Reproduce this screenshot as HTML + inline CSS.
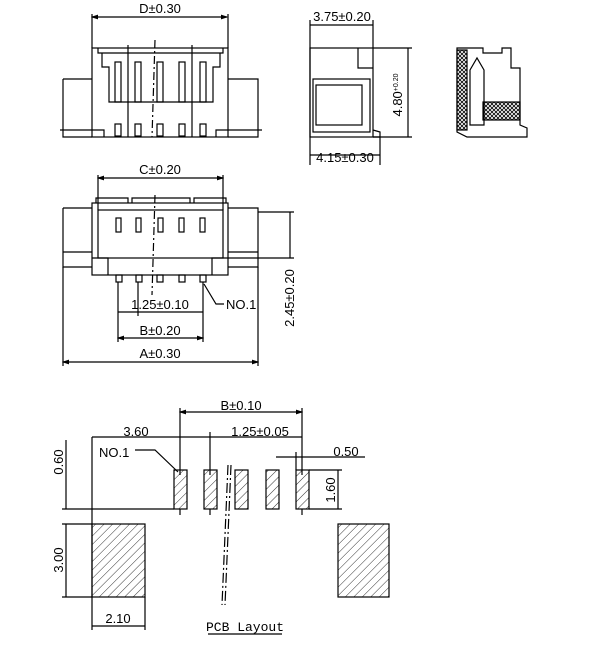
<!DOCTYPE html>
<html><head><style>
html,body{margin:0;padding:0;background:#fff;}
svg{display:block;font-family:"Liberation Sans",sans-serif;}
text{font-size:13px;fill:#000;}
</style></head><body>
<svg width="600" height="652" viewBox="0 0 600 652" xmlns="http://www.w3.org/2000/svg">
<defs>
<pattern id="h" patternUnits="userSpaceOnUse" width="6" height="6" patternTransform="rotate(45)"><line x1="0" y1="0" x2="0" y2="6" stroke="#000" stroke-width="0.8"/></pattern>
<pattern id="x" patternUnits="userSpaceOnUse" width="4" height="4"><path d="M0 0L4 4M4 0L0 4" stroke="#000" stroke-width="0.8"/></pattern>
<marker id="a" markerWidth="6" markerHeight="4" refX="5" refY="2" orient="auto-start-reverse"><path d="M0 0L6 2L0 4z" fill="#000"/></marker>
</defs>
<g fill="none" stroke="#000" stroke-width="1.2">
<!-- Top view -->
<line x1="92" y1="17" x2="227" y2="17" marker-start="url(#a)" marker-end="url(#a)"/>
<line x1="92" y1="14" x2="92" y2="48"/><line x1="228" y1="14" x2="228" y2="48"/>
<rect x="92" y="48" width="136" height="89"/>
<path d="M98 48 L98 53 L223 53 L223 48"/>
<path d="M102 53 L102 67 L109 67 L109 102 L213 102 L213 67 L220 67 L220 53"/>
<path d="M63 79 L92 79 M63 79 L63 137 L92 137 M60 130 L92 130"/>
<path d="M228 79 L258 79 L258 137 L228 137 M228 130 L262 130"/>
<path d="M92 130 L104 130 L104 137 M228 130 L216 130 L216 137"/>
<g>
<rect x="115" y="62" width="6" height="40"/><rect x="135" y="62" width="6" height="40"/><rect x="157" y="62" width="6" height="40"/><rect x="179" y="62" width="6" height="40"/><rect x="200" y="62" width="6" height="40"/>
<rect x="115" y="124" width="6" height="12"/><rect x="135" y="124" width="6" height="12"/><rect x="157" y="124" width="6" height="12"/><rect x="179" y="124" width="6" height="12"/><rect x="200" y="124" width="6" height="12"/>
<line x1="128" y1="45" x2="128" y2="137"/><line x1="192" y1="45" x2="192" y2="137"/>
<line x1="155" y1="40" x2="152" y2="137" stroke-dasharray="8,3,2,3"/>
</g>
<!-- Front right view -->
<line x1="310" y1="25" x2="373" y2="25"/>
<line x1="310" y1="20" x2="310" y2="165"/><line x1="373" y1="20" x2="373" y2="48"/>
<rect x="310" y="48" width="63" height="89"/>
<path d="M358 48 L358 68 L373 68"/>
<rect x="313" y="79" width="57" height="53"/><rect x="316" y="85" width="46" height="40"/>
<path d="M373 130 L380 132 L380 137 L373 137"/>
<line x1="373" y1="48" x2="412" y2="48"/><line x1="373" y1="137" x2="412" y2="137"/>
<line x1="408" y1="48" x2="408" y2="137"/>
<line x1="310" y1="155" x2="380" y2="155"/><line x1="380" y1="137" x2="380" y2="165"/>
<!-- Side section -->
<path d="M457 48 L483 48 L483 53 L502 53 L502 48 L511 48 L511 68 L520 68 L520 125 L527 128 L527 137 L467 137 L457 132 Z"/>
<rect x="457" y="50" width="10" height="80" fill="url(#x)"/>
<rect x="483" y="102" width="37" height="18" fill="url(#x)"/>
<path d="M470 125 L470 70 L477 58 L484 70 L484 125 Z"/>
<!-- Front bottom view -->
<line x1="98" y1="178" x2="223" y2="178" marker-start="url(#a)" marker-end="url(#a)"/>
<line x1="98" y1="175" x2="98" y2="210"/><line x1="223" y1="175" x2="223" y2="210"/>
<rect x="92" y="203" width="136" height="72"/>
<rect x="98" y="210" width="125" height="48"/>
<path d="M92 258 L108 258 L108 275 M228 258 L212 258 L212 275"/>
<path d="M63 208 L92 208 M63 208 L63 267 L92 267 M228 208 L258 208 L258 267 L228 267 M63 252 L92 252 M228 252 L258 252"/>
<path d="M96 203 L96 198 L128 198 L128 203 M132 203 L132 198 L190 198 L190 203 M194 203 L194 198 L226 198 L226 203"/>
<rect x="116" y="218" width="5" height="14"/><rect x="136" y="218" width="5" height="14"/><rect x="158" y="218" width="5" height="14"/><rect x="179" y="218" width="5" height="14"/><rect x="200" y="218" width="5" height="14"/>
<rect x="116" y="275" width="6" height="7"/><rect x="136" y="275" width="6" height="7"/><rect x="157" y="275" width="6" height="7"/><rect x="179" y="275" width="6" height="7"/><rect x="200" y="275" width="6" height="7"/>
<line x1="155" y1="195" x2="152" y2="295" stroke-dasharray="8,3,2,3"/>
<line x1="63" y1="267" x2="63" y2="366"/><line x1="258" y1="267" x2="258" y2="366"/>
<line x1="118" y1="282" x2="118" y2="342"/><line x1="138" y1="282" x2="138" y2="316"/><line x1="203" y1="282" x2="203" y2="342"/>
<line x1="118" y1="312" x2="203" y2="312"/>
<line x1="118" y1="338" x2="203" y2="338" marker-start="url(#a)" marker-end="url(#a)"/>
<line x1="63" y1="362" x2="258" y2="362" marker-start="url(#a)" marker-end="url(#a)"/>
<path d="M204 284 L216 304 L224 304"/>
<line x1="258" y1="212" x2="294" y2="212"/><line x1="228" y1="258" x2="294" y2="258"/>
<line x1="290" y1="212" x2="290" y2="258"/>
<!-- PCB layout -->
<line x1="180" y1="412" x2="302" y2="412" marker-start="url(#a)" marker-end="url(#a)"/>
<line x1="180" y1="408" x2="180" y2="475"/><line x1="302" y1="408" x2="302" y2="475"/>
<line x1="92" y1="437" x2="302" y2="437"/>
<line x1="92" y1="437" x2="92" y2="630"/><line x1="210" y1="432" x2="210" y2="475"/>
<line x1="276" y1="457" x2="365" y2="457"/><line x1="296" y1="452" x2="296" y2="470"/>
<g fill="url(#h)">
<rect x="174" y="470" width="13" height="39"/><rect x="204" y="470" width="13" height="39"/><rect x="235" y="470" width="13" height="39"/><rect x="266" y="470" width="13" height="39"/><rect x="296" y="470" width="13" height="39"/>
<rect x="92" y="524" width="53" height="73"/><rect x="338" y="524" width="51" height="73"/>
</g>
<line x1="180" y1="509" x2="180" y2="515"/><line x1="210" y1="509" x2="210" y2="515"/><line x1="302" y1="509" x2="302" y2="515"/>
<line x1="309" y1="470" x2="342" y2="470"/><line x1="309" y1="509" x2="342" y2="509"/>
<line x1="338" y1="470" x2="338" y2="509"/>
<line x1="62" y1="509" x2="174" y2="509"/><line x1="62" y1="524" x2="92" y2="524"/><line x1="62" y1="597" x2="92" y2="597"/>
<line x1="66" y1="440" x2="66" y2="509"/><line x1="66" y1="524" x2="66" y2="597"/>
<line x1="145" y1="597" x2="145" y2="630"/><line x1="92" y1="626" x2="145" y2="626"/>
<path d="M135 450 L155 450 L178 472"/>
<line x1="228" y1="465" x2="222" y2="605" stroke-dasharray="10,3,2,3"/>
<line x1="231" y1="465" x2="225" y2="605" stroke-dasharray="10,3,2,3"/>
<line x1="208" y1="634" x2="282" y2="634"/>
</g>
<text x="160" y="13" text-anchor="middle" font-size="14">D±0.30</text>
<text x="342" y="21" text-anchor="middle" font-size="12">3.75±0.20</text>
<text x="345" y="162" text-anchor="middle" font-size="12">4.15±0.30</text>
<text transform="translate(402,95) rotate(-90)" text-anchor="middle" font-size="12">4.80<tspan font-size="7" dy="-4">+0.20</tspan></text>
<text x="160" y="174" text-anchor="middle" font-size="14">C±0.20</text>
<text x="160" y="309" text-anchor="middle" font-size="12">1.25±0.10</text>
<text x="226" y="309" font-size="12">NO.1</text>
<text x="160" y="335" text-anchor="middle" font-size="12">B±0.20</text>
<text x="160" y="358" text-anchor="middle" font-size="14">A±0.30</text>
<text transform="translate(294,298) rotate(-90)" text-anchor="middle" font-size="12">2.45±0.20</text>
<text x="241" y="410" text-anchor="middle" font-size="16">B±0.10</text>
<text x="136" y="436" text-anchor="middle" font-size="16">3.60</text>
<text x="260" y="436" text-anchor="middle" font-size="16">1.25±0.05</text>
<text x="346" y="456" text-anchor="middle" font-size="16">0.50</text>
<text x="99" y="457" font-size="16">NO.1</text>
<text transform="translate(63,462) rotate(-90)" text-anchor="middle" font-size="16">0.60</text>
<text transform="translate(63,560) rotate(-90)" text-anchor="middle" font-size="16">3.00</text>
<text transform="translate(335,490) rotate(-90)" text-anchor="middle" font-size="16">1.60</text>
<text x="118" y="623" text-anchor="middle" font-size="16">2.10</text>
<text x="245" y="631" text-anchor="middle" font-size="12" style="font-family:'Liberation Mono',monospace">PCB Layout</text>
</svg>
</body></html>
